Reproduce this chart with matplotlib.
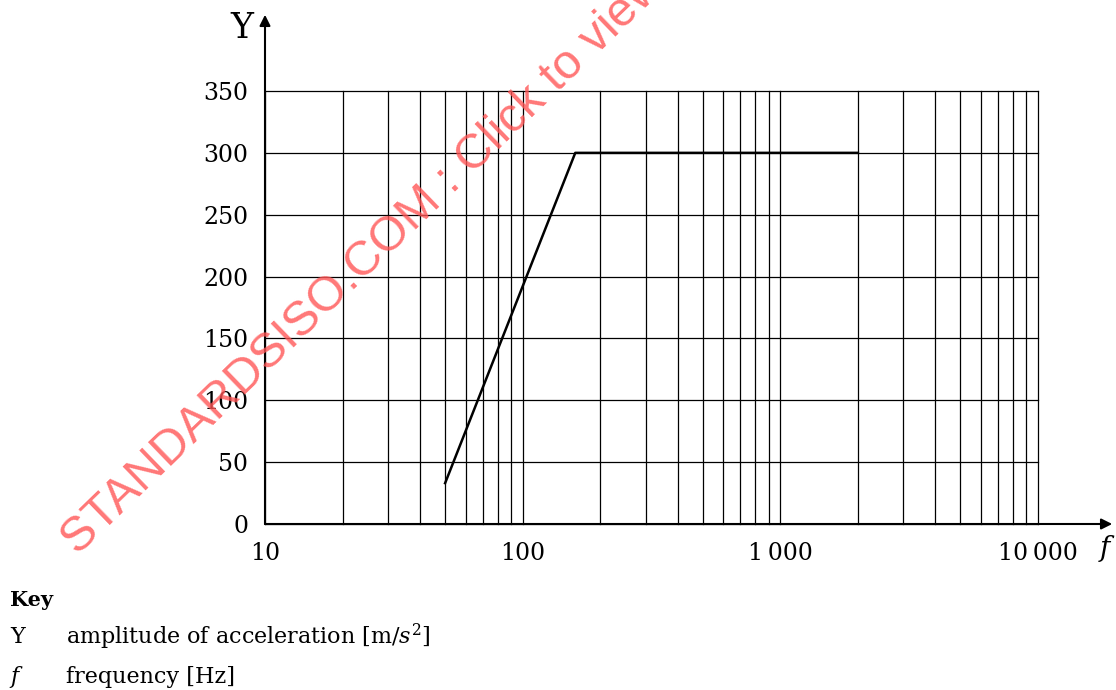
#!/usr/bin/env python3
"""Amplitude of acceleration vs frequency (log scale) - test profile"""

import numpy as np
import matplotlib
matplotlib.use("Agg")
import matplotlib.pyplot as plt

# curve: frequency [Hz] -> amplitude [m/s^2]
freq = [50, 160, 2000]
amplitude = [33, 300, 300]

y_ticks = [0, 50, 100, 150, 200, 250, 300, 350]
x_ticks = [10, 100, 1000, 10000]
x_tick_labels = ["10", "100", "1\u2009000", "10\u2009000"]

key_symbols = ["Y", "f"]
key_texts = ["amplitude of acceleration [m/$s^2$]", "frequency [Hz]"]

SERIF = "DejaVu Serif"


def main():
    plt.rcParams["font.family"] = SERIF
    plt.rcParams["mathtext.fontset"] = "dejavuserif"

    fig = plt.figure(figsize=(11.16, 6.9), dpi=100)
    ax = fig.add_axes([265 / 1116, 1 - 524 / 690, 773 / 1116, 433 / 690])

    ax.set_xscale("log")
    ax.set_xlim(10, 10000)
    ax.set_ylim(0, 350)

    # grid: every 1..9 x decade, every 50 on y
    grid_x = [m * 10 ** d for d in range(1, 4) for m in range(1, 10)] + [10000]
    for gx in grid_x:
        ax.axvline(gx, color="black", lw=0.9, zorder=1, clip_on=False)
    for gy in y_ticks:
        ax.axhline(gy, color="black", lw=0.9, zorder=1, clip_on=False)

    ax.plot(freq, amplitude, color="black", lw=1.8, zorder=3)

    ax.set_xticks(x_ticks)
    ax.set_xticklabels(x_tick_labels)
    ax.xaxis.set_minor_locator(matplotlib.ticker.NullLocator())
    ax.set_yticks(y_ticks)
    ax.tick_params(length=0, labelsize=17, pad=13)
    ax.tick_params(axis="y", pad=12)

    for s in ["top", "right", "left", "bottom"]:
        ax.spines[s].set_visible(False)

    # arrowed axes
    ax.annotate("", xy=(0, 1.176), xytext=(0, 0), xycoords="axes fraction",
                arrowprops=dict(arrowstyle="-|>", color="black", lw=1.5,
                                mutation_scale=16, shrinkA=0, shrinkB=0),
                annotation_clip=False)
    ax.annotate("", xy=(1.096, 0), xytext=(0, 0), xycoords="axes fraction",
                arrowprops=dict(arrowstyle="-|>", color="black", lw=1.5,
                                mutation_scale=16, shrinkA=0, shrinkB=0),
                annotation_clip=False)

    fig.text(242 / 1116, 1 - 28 / 690, "Y", fontsize=25, ha="center", va="center")
    fig.text(1105 / 1116, 1 - 548 / 690, "f", fontsize=20, style="italic",
             ha="center", va="center")

    # key
    fig.text(10 / 1116, 1 - 600 / 690, "Key", fontsize=15, fontweight="bold",
             ha="left", va="center")
    for i, (sym, txt) in enumerate(zip(key_symbols, key_texts)):
        y = 1 - (637 + 40 * i) / 690
        fig.text(10 / 1116, y, sym, fontsize=16, ha="left", va="center",
                 style="italic" if sym == "f" else "normal")
        fig.text(66 / 1116, y, txt, fontsize=16, ha="left", va="center")

    # watermark
    fig.text(78 / 1116, 1 - 556 / 690,
             "STANDARDSISO.COM : Click to view",
             fontsize=35, family="Liberation Sans", color="#ff5555", alpha=0.8,
             rotation=44, rotation_mode="anchor", ha="left", va="baseline",
             zorder=10)

    fig.savefig("out.png", dpi=100)


if __name__ == "__main__":
    main()
